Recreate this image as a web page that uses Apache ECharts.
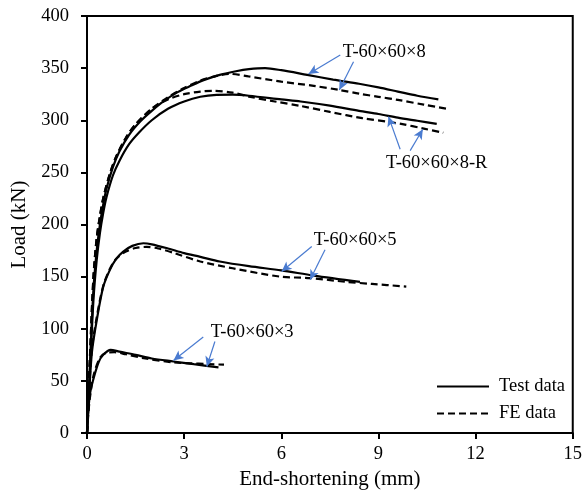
<!DOCTYPE html>
<html>
<head>
<meta charset="utf-8">
<script src="https://cdn.jsdelivr.net/npm/echarts@6/dist/echarts.min.js"></script>
<style>html,body{margin:0;padding:0;background:#fff}#c{width:585px;height:498px}</style>
</head>
<body>
<div id="c"></div>
<script>
// End-shortening (mm), Load (kN)
const t8Test = [[0,0],[0.1,72],[0.2,138],[0.3,175],[0.4,200],[0.5,219],[0.6,234],[0.8,255],[1.0,270],[1.3,286],[1.65,299],[2.0,309],[2.4,319],[2.8,327],[3.2,333],[3.6,338.5],[4.1,343.5],[4.6,347],[5.0,349],[5.5,350],[6.0,348],[6.8,343.5],[7.6,339],[8.4,335],[9.0,331.5],[9.6,327.5],[10.2,323.5],[10.85,320]];
const t8FE = [[0,0],[0.1,80],[0.2,150],[0.3,187],[0.4,208],[0.5,225],[0.7,248],[0.9,265],[1.2,283],[1.5,296],[2.0,311],[2.5,322],[3.0,331],[3.5,338],[4.0,342.5],[4.4,344.5],[5.0,342],[6.0,337],[7.0,333],[7.8,329],[8.4,325.5],[9.0,322.5],[9.6,319.5],[10.4,315],[11.2,310.5]];
const t8RTest = [[0,0],[0.1,66],[0.2,128],[0.3,166],[0.4,192],[0.5,211],[0.6,226],[0.8,247],[1.0,261],[1.3,277],[1.6,288],[2.0,300],[2.5,311],[3.0,318],[3.5,322.5],[4.0,324.3],[4.5,324.5],[5.0,323.5],[6.0,320],[6.6,318],[7.5,314],[8.4,309],[9.0,306],[9.6,302.5],[10.2,299.5],[10.8,296.5]];
const t8RFE = [[0,0],[0.1,80],[0.2,150],[0.3,187],[0.4,208],[0.5,225],[0.7,248],[0.9,265],[1.2,283],[1.5,296],[2.0,311],[2.5,320],[3.0,325],[3.5,327.5],[3.9,328.2],[4.5,326.5],[5.0,322.7],[5.8,318],[6.6,313.7],[7.5,308],[8.5,302],[9.3,298.5],[9.7,296.5],[10.4,292],[11.0,288]];
const t5Test = [[0,0],[0.05,29],[0.15,77],[0.3,108],[0.5,140],[0.7,156],[0.9,167],[1.12,174],[1.4,179.5],[1.74,182],[2.0,181],[2.5,177],[3.0,172.5],[3.5,169],[4.1,164.5],[5.0,160],[6.0,156],[7.0,151],[8.43,145]];
const t5FE = [[0,0],[0.05,32],[0.15,80],[0.3,111],[0.5,141],[0.7,157],[0.9,167],[1.2,174],[1.5,177.5],[1.84,178.5],[2.2,177],[2.7,172.5],[3.5,164.5],[4.5,158],[5.96,150],[6.9,148.6],[8.0,145],[8.8,143],[9.86,140.5]];
const t3Test = [[0,0],[0.05,25],[0.1,39],[0.2,52],[0.36,68],[0.5,75],[0.73,79.8],[1.0,78],[1.5,75],[2.0,71.5],[2.67,68.6],[3.3,66],[4.06,63]];
const t3FE = [[0,0],[0.05,22],[0.1,36],[0.2,55],[0.4,72],[0.6,77],[0.85,77.5],[1.2,75.5],[1.8,71.5],[2.67,67.7],[3.2,66.8],[3.7,66.2],[4.23,65.5]];

const specimenLabels = [
  {name:'T-60×60×8', at:[9.18,365.8]},
  {name:'T-60×60×8-R', at:[10.8,258.5]},
  {name:'T-60×60×5', at:[8.28,185]},
  {name:'T-60×60×3', at:[5.1,97]}
];
const arrows = [
  [[7.82,362.6],[6.84,344.4]],
  [[8.23,356.2],[7.79,329.1]],
  [[9.67,272.2],[9.31,303.5]],
  [[9.98,270.9],[10.37,291.4]],
  [[6.94,178.9],[6.01,154.9]],
  [[7.35,175.7],[6.89,146.9]],
  [[3.59,92],[2.67,69.6]],
  [[3.95,87.8],[3.70,63.8]]
];

const FONT = 'Liberation Serif';
const testStyle = {color:'#000', width:2.2, type:'solid'};
const feStyle = {color:'#000', width:2.2, type:[7,4]};
function lineSeries(name, data, style){
  return {type:'line', name:name, data:data, smooth:0.3, symbol:'none', showSymbol:false,
    lineStyle:style, itemStyle:{color:'#000'}, silent:true, animation:false, z:3};
}
const chart = echarts.init(document.getElementById('c'));
chart.setOption({
  animation:false,
  backgroundColor:'#fff',
  grid:{left:87, right:12, top:16, bottom:65, show:true, borderColor:'#000', borderWidth:2, backgroundColor:'transparent'},
  xAxis:{type:'value', min:0, max:15, interval:3,
    name:'End-shortening (mm)', nameLocation:'middle', nameGap:34,
    nameTextStyle:{fontFamily:FONT, fontSize:21, color:'#000'},
    axisLine:{show:true, lineStyle:{color:'#000', width:2}},
    axisTick:{show:true, inside:false, length:6, lineStyle:{color:'#000', width:2}},
    axisLabel:{fontFamily:FONT, fontSize:18.5, color:'#000', margin:12},
    splitLine:{show:false}},
  yAxis:{type:'value', min:0, max:400, interval:50,
    name:'Load (kN)', nameLocation:'middle', nameGap:54, nameRotate:90,
    nameTextStyle:{fontFamily:FONT, fontSize:21, color:'#000'},
    axisLine:{show:true, lineStyle:{color:'#000', width:2}},
    axisTick:{show:true, inside:false, length:6, lineStyle:{color:'#000', width:2}},
    axisLabel:{fontFamily:FONT, fontSize:18.5, color:'#000', margin:18},
    splitLine:{show:false}},
  legend:{data:['Test data','FE data'], orient:'vertical', left:431, top:372,
    itemWidth:52, itemHeight:14, itemGap:8,
    itemStyle:{opacity:0},
    textStyle:{fontFamily:FONT, fontSize:18.5, color:'#000', padding:[0,0,0,5]}},
  series:[
    lineSeries('Test data', t8Test, testStyle),
    lineSeries('FE data', t8FE, feStyle),
    lineSeries('Test data', t8RTest, testStyle),
    lineSeries('FE data', t8RFE, feStyle),
    lineSeries('Test data', t5Test, testStyle),
    lineSeries('FE data', t5FE, feStyle),
    lineSeries('Test data', t3Test, testStyle),
    lineSeries('FE data', t3FE, feStyle),
    {type:'line', name:'arrows', data:[], silent:true, z:4,
      markLine:{silent:true, symbol:['none','arrow'], symbolSize:[7,10], animation:false,
        lineStyle:{color:'#4A7BD0', width:1.2, type:'solid'}, label:{show:false},
        data:arrows.map(a=>[{coord:a[0]},{coord:a[1]}])}}
  ]
});
chart.setOption({
  graphic: specimenLabels.map(d=>{
    const p = chart.convertToPixel({gridIndex:0}, d.at);
    return {type:'text', x:p[0], y:p[1], z:10, silent:true,
      style:{text:d.name, fill:'#000', font:'18.5px "Liberation Serif"', align:'center', verticalAlign:'middle'}};
  })
});
</script>
</body>
</html>
